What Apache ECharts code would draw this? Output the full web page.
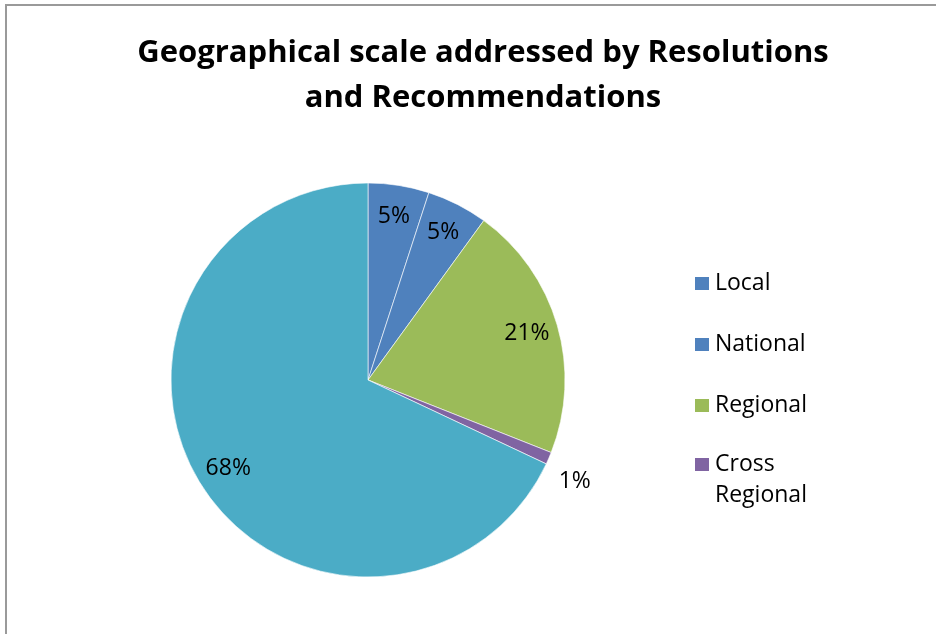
<!DOCTYPE html>
<html>
<head>
<meta charset="utf-8">
<script src="https://cdn.jsdelivr.net/npm/echarts@6/dist/echarts.min.js"></script>
<style>
  html, body { margin: 0; padding: 0; background: #fff; overflow: hidden; }
  .frame {
    position: absolute; left: 5px; top: 4px;
    width: 1000px; height: 700px;
    border: 2px solid #9a9a9a;
  }
  #main { position: absolute; left: 0; top: 0; width: 936px; height: 634px; }
</style>
</head>
<body>
<div class="frame"></div>
<div id="main"></div>
<script>
  // data
  var names = ['Local', 'National', 'Regional', 'Cross Regional', 'Other']
  var values = [5, 5, 21, 1, 68]
  var colors = ['#4f81bd', '#4f81bd', '#9bbb59', '#8064a2', '#4bacc6']
  var legendNames = ['Local', 'National', 'Regional']
  var legendNames2 = ['Cross Regional']

  var font = '"Open Sans", "Noto Sans", sans-serif'
  var chart = echarts.init(document.getElementById('main'))

  var pieData = names.map(function (n, i) {
    return { name: n, value: values[i], itemStyle: { color: colors[i] } }
  })
  // transparent ring that only carries the labels (puts them near the rim)
  var labelData = names.map(function (n, i) {
    var item = { name: n, value: values[i] }
    if (n === 'Cross Regional') {
      item.label = { position: 'outside', offset: [-8, 18] }
      item.labelLine = { show: false, length: 14, length2: 0 }
    }
    return item
  })

  function legendItems(list) {
    return list.map(function (n) {
      return { name: n, itemStyle: { color: colors[names.indexOf(n)] } }
    })
  }

  var legendText = { fontFamily: font, fontSize: 23, lineHeight: 31, color: '#000' }

  var option = {
    animation: false,
    title: {
      text: 'Geographical scale addressed by Resolutions\nand Recommendations',
      left: 478,
      textAlign: 'center',
      top: 26,
      textStyle: { fontFamily: font, fontWeight: 'bold', fontSize: 31, lineHeight: 45, color: '#000' }
    },
    legend: [
      {
        orient: 'vertical',
        left: 693,
        top: 268,
        padding: 0,
        itemWidth: 16,
        itemHeight: 15,
        itemGap: 30,
        icon: 'rect',
        data: legendItems(legendNames),
        textStyle: legendText
      },
      {
        // two-line item: empty first line keeps the icon level with "Cross"
        orient: 'vertical',
        left: 693,
        top: 418,
        padding: 0,
        itemWidth: 16,
        itemHeight: 15,
        icon: 'rect',
        data: legendItems(legendNames2),
        formatter: function (n) { return '\nCross\nRegional' },
        textStyle: legendText
      }
    ],
    series: [
      {
        type: 'pie',
        center: [368, 380],
        radius: [0, 197],
        startAngle: 90,
        clockwise: true,
        silent: true,
        label: { show: false },
        labelLine: { show: false },
        itemStyle: { borderColor: '#ffffff', borderWidth: 0.6 },
        data: pieData
      },
      {
        type: 'pie',
        center: [368, 380],
        radius: [128, 197],
        startAngle: 90,
        clockwise: true,
        silent: true,
        legendHoverLink: false,
        itemStyle: { color: 'rgba(0,0,0,0)' },
        label: {
          show: true,
          position: 'inside',
          formatter: '{c}%',
          fontFamily: font,
          fontSize: 23,
          color: '#000'
        },
        labelLine: { show: false },
        data: labelData
      }
    ]
  }
  chart.setOption(option)
</script>
</body>
</html>
